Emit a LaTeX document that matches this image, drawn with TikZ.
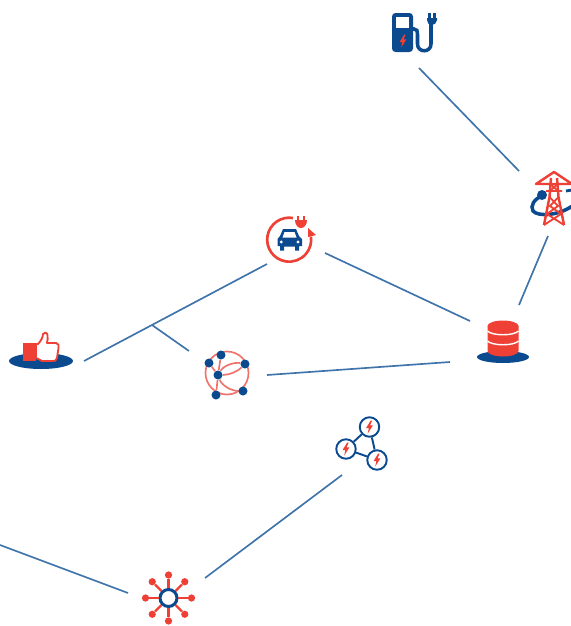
\documentclass[tikz,border=0pt]{standalone}
\usetikzlibrary{
    positioning,
    calc
}
\definecolor{iconblue}{HTML}{0B4A8F}
\definecolor{iconred}{HTML}{EE4035}
\definecolor{linkblue}{HTML}{3F74AB}
\definecolor{softred}{HTML}{F0736B}

\begin{document}
\begin{tikzpicture}[
    % Global style settings: one unit is one pixel of the reference
    x=0.02cm, y=-0.02cm,
    link_style/.style={
        color=linkblue,
        line width=0.95pt
    },
    blue_fill/.style={
        fill=iconblue,
        draw=none
    },
    red_fill/.style={
        fill=iconred,
        draw=none
    },
    red_line/.style={
        color=iconred,
        line width=1.05pt
    },
    soft_line/.style={
        color=softred,
        line width=0.95pt
    },
    net_dot/.style={
        circle,
        blue_fill,
        minimum size=1.8mm,
        inner sep=0pt
    },
    bolt_ring/.style={
        circle,
        draw=iconblue,
        fill=white,
        line width=1.1pt,
        minimum size=3.9mm,
        inner sep=0pt
    },
    hub_dot/.style={
        circle,
        red_fill,
        minimum size=1.45mm,
        inner sep=0pt
    },
    bolt/.pic={
        \fill[iconred] (1.2,-6.5) -- (-3.4,1) -- (-0.6,1) -- (-1.8,6.5) -- (3.4,-1.6) -- (0.6,-1.6) -- (2.6,-6.5) -- cycle;
    }
]
    \clip (0,0) rectangle (571,626);

    % 1. Free ends of the connectors.
    \coordinate (chargerend) at (419,68);
    \coordinate (towerup) at (519,171);
    \coordinate (towerdown) at (548,236);
    \coordinate (dbup) at (519,305);
    \coordinate (carright) at (325,253);
    \coordinate (dbleft) at (470,321);
    \coordinate (carleft) at (267,264);
    \coordinate (thumbend) at (84,361);
    \coordinate (forkpoint) at (152,325);
    \coordinate (netup) at (189,351);
    \coordinate (dblow) at (450,362);
    \coordinate (netright) at (267,375);
    \coordinate (trianglelow) at (342,475);
    \coordinate (hubright) at (205,578);
    \coordinate (edgeleft) at (0,545);
    \coordinate (hubleft) at (128,593);

    % 2. The connectors.
    \draw[link_style] (chargerend) -- (towerup);
    \draw[link_style] (towerdown) -- (dbup);
    \draw[link_style] (carright) -- (dbleft);
    \draw[link_style] (carleft) -- (thumbend);
    \draw[link_style] (forkpoint) -- (netup);
    \draw[link_style] (dblow) -- (netright);
    \draw[link_style] (trianglelow) -- (hubright);
    \draw[link_style] (edgeleft) -- (hubleft);

    % 3. Charging station.
    \draw[color=iconblue, line width=2pt] (412,29) -- (414,29) .. controls (417,29) and (417.5,31) .. (417.5,34) -- (417.5,44) .. controls (417.5,53) and (431,53) .. (431,44) -- (431,22);
    \fill[blue_fill, rounded corners=2pt] (392,13) rectangle (413,52);
    \fill[white] (396,17) rectangle (409,28);
    \pic at (403,41) {bolt};
    \fill[blue_fill] (427,18) -- (437,18) -- (437,20) .. controls (437,23) and (434,25) .. (432,25) .. controls (429,25) and (427,23) .. (427,20) -- cycle;
    \fill[blue_fill] (428.4,13) rectangle (430.8,18);
    \fill[blue_fill] (433.4,13) rectangle (435.8,18);

    % 4. Pylon with its orbit.
    \draw[color=iconblue, line width=2pt] (542,196) .. controls (534,199) and (530,206) .. (533,211) .. controls (538,217) and (560,216) .. (575,204);
    \draw[color=iconblue, line width=1.6pt] (566,191) -- (572,190);
    \fill[blue_fill] (542,195) circle (5);
    \draw[red_line, line width=1.4pt, line join=round] (536,184) -- (554,172) -- (572,184) -- cycle;
    \draw[red_line, line width=1.4pt, line join=round] (551,178) -- (549.5,197) -- (544,225) (557,178) -- (558.5,197) -- (564,225);
    \draw[red_line] (546,191) -- (562,191) (549.5,197) -- (558,206) -- (547,214) -- (564,225) (558.5,197) -- (550,206) -- (561,214) -- (544,225) (550.5,184) -- (558,191) (557.5,184) -- (550,191);

    % 5. Electric car in its arrow.
    \draw[color=iconred, line width=1.5pt] (293,218) arc[start angle=-80, end angle=-368, radius=22];
    \fill[red_fill] (308,228) -- (316,235) -- (308,237) -- cycle;
    \fill[red_fill] (295,220) -- (307,220) .. controls (307,225) and (304,228) .. (301,228) .. controls (298,228) and (295,225) .. (295,220) -- cycle;
    \fill[red_fill] (297.2,216) rectangle (299.2,220);
    \fill[red_fill] (303,216) rectangle (305,220);
    \fill[blue_fill] (283,229) -- (296,229) -- (299,236) -- (302,239) -- (302,246) -- (299,246) -- (299,250.5) -- (295,250.5) -- (295,246.5) -- (284,246.5) -- (284,250.5) -- (280,250.5) -- (280,246) -- (277.5,246) -- (277.5,239) -- (280,236) -- cycle;
    \fill[white] (284.5,232) -- (294.5,232) -- (296.5,237.5) -- (282.5,237.5) -- cycle;
    \fill[white] (281.3,242) circle (1.6) (298,242) circle (1.6);

    % 6. Thumb on its base.
    \fill[blue_fill] (41,361) ellipse (32 and 8);
    \fill[red_fill] (23,343) rectangle (36,361);
    \draw[red_line, fill=white, line join=round] (36,344) -- (38,344) .. controls (41,341) and (43,337) .. (43,334) .. controls (44,332) and (47,332) .. (47.5,335) .. controls (48,338) and (47.5,341) .. (47,343) -- (56,343) .. controls (59,343) and (59,346) .. (58.5,348) -- (57,358) .. controls (56,361) and (55,361) .. (53,361) -- (42,361) .. controls (39,360) and (38,358) .. (36,358) -- cycle;

    % 7. Graph in a circle.
    \draw[soft_line] (227,373) circle (21.5);
    \node[net_dot] (netdota) at (209,363) {};
    \node[net_dot] (netdotb) at (221,355) {};
    \node[net_dot] (netdotc) at (245,364) {};
    \node[net_dot] (netdotd) at (218,375) {};
    \node[net_dot] (netdote) at (243,391) {};
    \node[net_dot] (netdotf) at (216,395) {};
    \draw[soft_line] (netdota) -- (netdotd) -- (netdotf);
    \draw[soft_line] (netdotb) -- (netdotd);
    \draw[soft_line] (netdotd) .. controls (224,365) and (235,362) .. (netdotc);
    \draw[soft_line] (netdotd) .. controls (230,375) and (238,371) .. (netdotc);
    \draw[soft_line] (netdotd) .. controls (222,386) and (232,391) .. (netdote);

    % 8. Database on its base.
    \fill[blue_fill] (503,357) ellipse (26 and 6);
    \fill[red_fill] (487.5,326) -- (518.5,326) -- (518.5,351) arc[start angle=0, end angle=180, x radius=15.5, y radius=5.5] -- cycle;
    \fill[red_fill] (503,326) ellipse (15.5 and 5.5);
    \draw[white, line width=0.8pt] (487.5,331) .. controls (492,336) and (514,336) .. (518.5,331);
    \draw[white, line width=0.8pt] (487.5,341) .. controls (492,346) and (514,346) .. (518.5,341);

    % 9. Three linked bolts.
    \node[bolt_ring] (ringtop) at (369.5,427) {};
    \node[bolt_ring] (ringleft) at (346,449) {};
    \node[bolt_ring] (ringright) at (377,460) {};
    \draw[color=iconblue, line width=1.1pt] (ringtop) -- (ringleft) -- (ringright) -- (ringtop);
    \pic at (369.5,427) {bolt};
    \pic at (346,449) {bolt};
    \pic at (377,460) {bolt};

    % 10. Hub with eight spokes.
    \node[circle, draw=iconblue, fill=white, line width=1.7pt, minimum size=3.4mm, inner sep=0pt] (hubcentre) at (168.5,598) {};
    \foreach \a in {0,45,...,315} {
        \node[hub_dot] (hubdot\a) at ($(hubcentre)+(\a:23)$) {};
        \draw[red_line, line width=1.3pt] (hubcentre) -- (hubdot\a);
    }
\end{tikzpicture}
\end{document}
